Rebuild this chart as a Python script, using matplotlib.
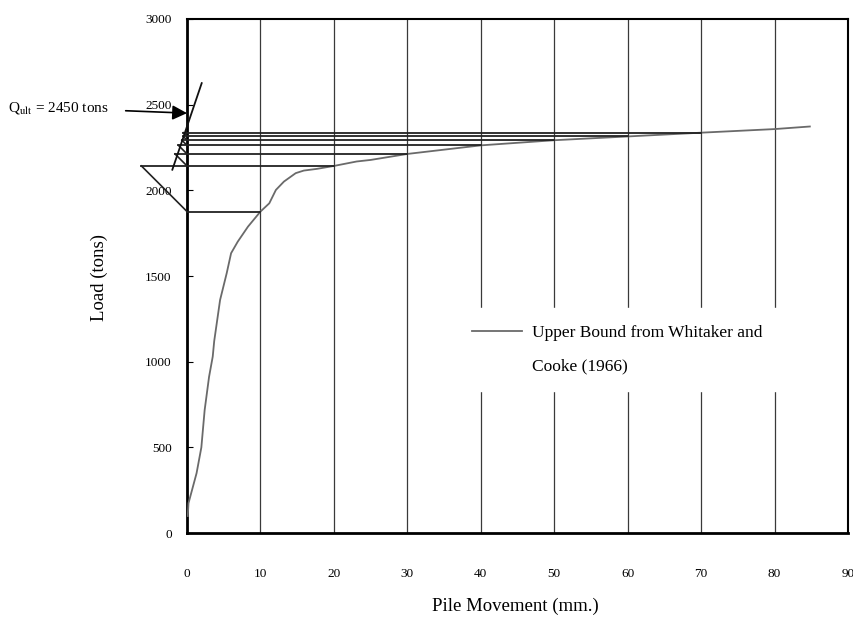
import numpy as np
import matplotlib
matplotlib.use("Agg")
import matplotlib.pyplot as plt

plt.rcParams["font.family"] = ["Liberation Serif", "DejaVu Serif"]
plt.rcParams["mathtext.fontset"] = "stix"

# load-movement curve (mm, tons)
movement = [0.1, 0.2, 1.3, 1.95, 2.4, 3.0, 3.5, 3.7, 4.5, 5.4, 6.0, 6.9, 8.3, 10.0,
            11.2, 12.1, 13.2, 14.8, 15.9, 17.7, 20.0, 23.1, 25.0, 30.0, 40.0,
            50.0, 60.0, 70.0, 80.0, 84.8]
load = [100, 175, 350, 500, 718, 912, 1030, 1120, 1360, 1516, 1633, 1700, 1788, 1876,
        1924, 2002, 2051, 2100, 2115, 2125, 2142, 2168, 2177, 2212, 2262,
        2292, 2314, 2336, 2357, 2372]

# equal movement steps used for the construction
steps = [10, 20, 30, 40, 50, 60, 70]

# fitted line through the construction points
fit_x = [-2.0, 2.0]
fit_y = [2120, 2625]
q_ult = 2450

xticks = [0, 10, 20, 30, 40, 50, 60, 70, 80, 90]
yticks = [0, 500, 1000, 1500, 2000, 2500, 3000]

W, H = 8.54, 6.28
fig = plt.figure(figsize=(W, H), dpi=100)
ax = fig.add_axes([0.219, 0.151, 0.774, 0.819])
ax.set_xlim(0, 90)
ax.set_ylim(0, 3000)

# vertical grid lines only
for gx in xticks[1:-1]:
    ax.axvline(gx, color="#3a3a3a", lw=0.9, zorder=1)

line, = ax.plot(movement, load, color="#6a6a6a", lw=1.3, zorder=3,
                label="Upper Bound from Whitaker and")
ax.plot([], [], color="none", label="Cooke (1966)")

# 45 degree (on screen) construction left of the load axis
pos = ax.get_position()
px_mm = pos.width * W * 100 / 90.0
px_ton = pos.height * H * 100 / 3000.0
levels = np.interp(steps, movement, load)
left_ends = [0.0]
for i in range(len(levels) - 1):
    dx = (levels[i + 1] - levels[i]) * px_ton / px_mm
    ax.plot([0, -dx], [levels[i], levels[i + 1]], color="#222222", lw=1.2,
            clip_on=False, zorder=4)
    left_ends.append(-dx)
for lv, s, x0 in zip(levels, steps, left_ends):
    ax.plot([x0, s], [lv, lv], color="#222222", lw=1.3, clip_on=False, zorder=4)

ax.plot(fit_x, fit_y, color="#111111", lw=1.3, clip_on=False, zorder=4)

ax.annotate(r"Q$_{\mathrm{ult}}$ = 2450 tons", xy=(0, q_ult), xycoords="data",
            xytext=(-78, 5), textcoords="offset pixels", ha="right", va="center",
            fontsize=11, annotation_clip=False,
            arrowprops=dict(arrowstyle="-|>", color="black", lw=1.2,
                            mutation_scale=22, shrinkA=10, shrinkB=0))

ax.set_xticks(xticks)
ax.set_yticks(yticks)
ax.tick_params(axis="x", length=0, pad=25, labelsize=9.5)
ax.tick_params(axis="y", direction="in", length=4, pad=11, labelsize=9.5)
for side in ["left", "bottom"]:
    ax.spines[side].set_linewidth(2.0)
for side in ["top", "right"]:
    ax.spines[side].set_linewidth(1.5)

ax.set_xlabel("Pile Movement (mm.)", fontsize=13.5)
ax.set_ylabel("Load (tons)", fontsize=13.5)
ax.xaxis.set_label_coords(0.496, -0.125)
ax.yaxis.set_label_coords(-0.12, 0.498)

leg = ax.legend(loc="center left", bbox_to_anchor=(0.405, 0.357), fontsize=12.5,
                frameon=True, facecolor="white", edgecolor="white", framealpha=1,
                fancybox=False, borderaxespad=0, borderpad=1.0,
                handlelength=2.9, handletextpad=0.55, labelspacing=0.95)
leg.set_zorder(5)

fig.savefig("out.png", dpi=100, facecolor="white")
